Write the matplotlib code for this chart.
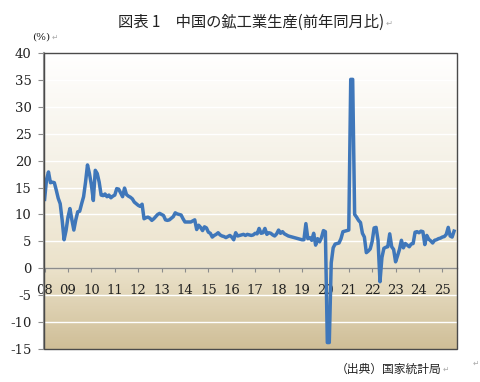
import numpy as np
import matplotlib
matplotlib.use("Agg")
import matplotlib.pyplot as plt
from matplotlib.colors import LinearSegmentedColormap
from matplotlib.patches import Rectangle

# 鉱工業生産 前年同月比 (%), 2008年1月から月次
values = [
    12.8, 16.5, 17.9, 15.9, 16.0, 15.9, 14.5, 13.0, 12.0, 9.0, 5.3, 7.0,      # 2008
    9.5, 11.1, 9.0, 7.1, 9.0, 10.5, 10.6, 12.0, 13.3, 16.0, 19.2, 17.6,       # 2009
    15.5, 12.6, 18.2, 17.6, 16.0, 13.6, 13.5, 13.8, 13.3, 13.6, 13.1, 13.4,   # 2010
    13.6, 14.8, 14.7, 14.0, 13.3, 14.9, 13.7, 13.4, 13.2, 12.9, 12.3, 12.0,   # 2011
    11.7, 11.5, 11.9, 9.2, 9.4, 9.5, 9.3, 8.9, 9.2, 9.6, 10.0, 10.2,          # 2012
    10.0, 9.8, 9.0, 8.9, 9.0, 9.3, 9.6, 10.3, 10.1, 10.0, 9.9, 9.2,           # 2013
    8.6, 8.6, 8.6, 8.6, 8.8, 9.0, 7.2, 8.0, 7.6, 7.0, 7.7, 7.5,               # 2014
    6.7, 6.5, 5.8, 6.1, 6.3, 6.6, 6.2, 6.0, 5.9, 5.7, 5.9, 6.1,               # 2015
    5.8, 5.3, 6.6, 6.0, 6.1, 6.2, 6.3, 6.1, 6.3, 6.2, 6.1, 6.2,               # 2016
    6.5, 6.4, 7.4, 6.5, 6.6, 7.4, 6.3, 6.6, 6.5, 6.2, 6.0, 6.4,               # 2017
    7.1, 6.5, 6.8, 6.4, 6.2, 6.0, 5.9, 5.8, 5.7, 5.6, 5.5, 5.4,               # 2018
    5.3, 5.3, 8.3, 5.5, 5.7, 5.2, 6.5, 4.3, 5.5, 4.9, 5.7, 7.0,               # 2019
    6.8, -13.8, -13.8, 1.0, 3.8, 4.5, 4.6, 4.7, 5.5, 6.8, 6.9, 7.0,           # 2020
    7.1, 35.1, 35.1, 10.0, 9.5, 8.9, 8.5, 6.5, 5.8, 2.9, 3.2, 3.6,            # 2021
    5.0, 7.5, 7.6, 5.2, -2.5, 2.0, 3.7, 3.9, 4.0, 6.4, 4.0, 3.5,              # 2022
    1.2, 2.3, 3.5, 5.2, 3.8, 4.6, 4.3, 4.0, 4.5, 4.6, 6.7, 6.8,               # 2023
    6.6, 6.9, 6.8, 4.4, 6.1, 5.4, 5.1, 4.7, 5.2, 5.3, 5.5, 5.6,               # 2024
    5.8, 5.9, 6.3, 7.6, 6.0, 5.8, 6.9,                                        # 2025
]
year_labels = ["08", "09", "10", "11", "12", "13", "14", "15", "16",
               "17", "18", "19", "20", "21", "22", "23", "24", "25"]
y_ticks = [-15, -10, -5, 0, 5, 10, 15, 20, 25, 30, 35, 40]

serif = "DejaVu Serif"
jp = ["Noto Sans CJK JP", "DejaVu Sans"]

fig = plt.figure(figsize=(4.8, 3.82), dpi=100)
ax = fig.add_axes([44 / 480, 1 - 349 / 382, 413 / 480, 296 / 382])

x = np.arange(len(values))
xmin, xmax = -0.3, 211.5
ymin, ymax = -15, 40

# 背景のグラデーション
cmap = LinearSegmentedColormap.from_list(
    "bg", [(0.0, "#cfbe97"), (0.27, "#ebe2ca"), (0.55, "#f3eee1"), (1.0, "#ffffff")])
grad = np.linspace(0, 1, 256).reshape(-1, 1)
ax.imshow(grad, cmap=cmap, origin="lower", aspect="auto",
          extent=[xmin, xmax, ymin, ymax], zorder=0)

for yv in y_ticks[1:-1]:
    ax.axhline(yv, color="white", lw=1.0, zorder=1)

ax.plot(x, values, color="#3f77ba", lw=2.5, zorder=3, solid_joinstyle="round")

ax.set_xlim(xmin, xmax)
ax.set_ylim(ymin, ymax)

# x軸はゼロの位置
ax.spines["bottom"].set_position(("data", 0))
ax.spines["bottom"].set_color("#8c8c8c")
ax.spines["bottom"].set_linewidth(1.0)
ax.spines["left"].set_color("#9a9a9a")
ax.spines["left"].set_linewidth(1.5)
ax.spines["top"].set_visible(False)
ax.spines["right"].set_visible(False)
ax.add_patch(Rectangle((0, 0), 1, 1, transform=ax.transAxes, fill=False,
                       ec="#4a4a4a", lw=1.0, zorder=5, clip_on=False))

ax.set_xticks(np.arange(len(year_labels)) * 12)
ax.set_xticklabels(year_labels, fontfamily=serif, fontsize=9.5, color="#222222")
ax.tick_params(axis="x", direction="out", length=3, width=0.8, color="#8c8c8c", pad=8)

ax.set_yticks(y_ticks)
ax.set_yticklabels([str(v) for v in y_ticks], fontfamily=serif, fontsize=9.5, color="#222222")
ax.tick_params(axis="y", direction="out", length=4, width=0.8, color="#8c8c8c", pad=5)


def return_mark(txt, size=5.5):
    # Word の段落記号
    return ax.annotate("\u21b5", xy=(1, 0.45), xycoords=txt, xytext=(1, 0),
                       textcoords="offset points", family="DejaVu Sans",
                       fontsize=size, ha="left", va="center", color="#aaaaaa",
                       annotation_clip=False)


title = fig.text(251 / 480, 1 - 22 / 382, "図表 1\u3000中国の鉱工業生産(前年同月比)",
                 family=jp, fontsize=11, ha="center", va="center", color="#222222")
return_mark(title, 6)
unit = fig.text(32 / 480, 1 - 37 / 382, "(%)", family=serif, fontsize=7.5,
                ha="left", va="center", color="#222222")
return_mark(unit)
source = fig.text(441 / 480, 1 - 369 / 382, "（出典）国家統計局", family=jp, fontsize=8.5,
                  ha="right", va="center", color="#222222")
return_mark(source)
fig.text(473 / 480, 1 - 363 / 382, "\u21b5", family="DejaVu Sans", fontsize=5.5,
         ha="left", va="center", color="#aaaaaa")

fig.savefig("out.png", dpi=100)
